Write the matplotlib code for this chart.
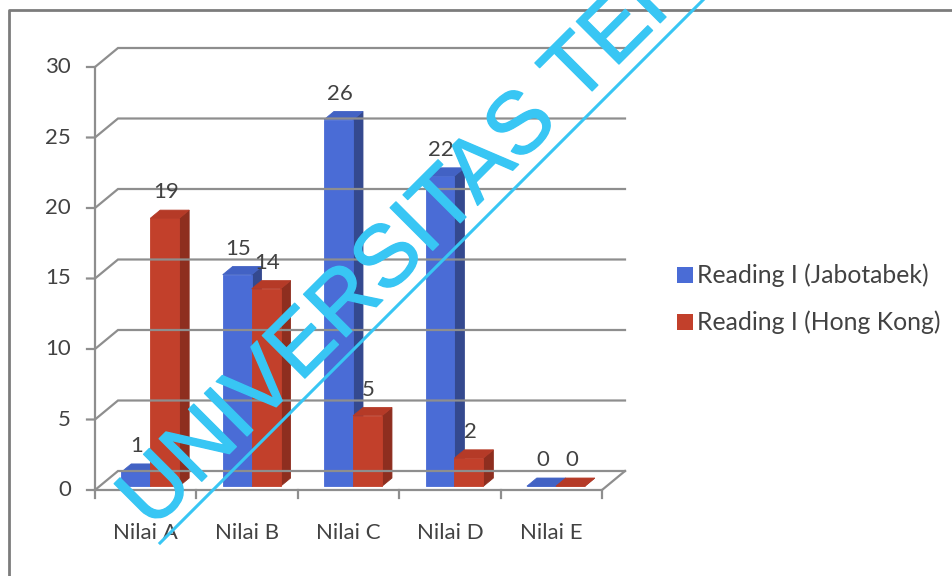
import matplotlib
matplotlib.use("Agg")
import matplotlib.pyplot as plt
import matplotlib.patheffects as pe
from matplotlib.patches import Polygon, Rectangle
from matplotlib.lines import Line2D

# ---- data ----
categories = ["Nilai A", "Nilai B", "Nilai C", "Nilai D", "Nilai E"]
jabotabek = [1, 15, 26, 22, 0]
hong_kong = [19, 14, 5, 2, 0]
series_names = ["Reading I (Jabotabek)", "Reading I (Hong Kong)"]
y_ticks = [0, 5, 10, 15, 20, 25, 30]
watermark = "UNIVERSITAS TERBUKA"

# ---- styling ----
FONT = "Lato"
TEXT_COLOR = "#424242"
GRID_COLOR = "#8e8e8e"
CYAN = "#38c6f4"
FACE = {
    "blue": {"front": "#4a6cd6", "side": "#34498f", "top": "#4262c4"},
    "red": {"front": "#c2402b", "side": "#8e2e1f", "top": "#b53a27"},
}

W, H, DPI = 952, 576, 100
X0_PX, Y0_PX = 95, 490          # front-left corner of the floor (pixels)
PX_PER_CAT, PX_PER_UNIT = 101.4, 14.1
DEPTH_PX = (23, 19)             # oblique depth of the floor (pixels)

fig = plt.figure(figsize=(W / DPI, H / DPI), dpi=DPI)
fig.patch.set_facecolor("white")
ax = fig.add_axes([0, 0, 1, 1])
ax.set_xlim(-X0_PX / PX_PER_CAT, (W - X0_PX) / PX_PER_CAT)
ax.set_ylim((Y0_PX - H) / PX_PER_UNIT, Y0_PX / PX_PER_UNIT)
ax.axis("off")

DX = DEPTH_PX[0] / PX_PER_CAT
DY = DEPTH_PX[1] / PX_PER_UNIT
N = len(categories)
YMAX = y_ticks[-1]


def P(x, y, d):
    """Oblique projection of (category x, value y, depth d in 0..1)."""
    return (x + d * DX, y + d * DY)


tick_x = 8 / PX_PER_CAT
tick_y = 8 / PX_PER_UNIT

# walls: back gridlines, side-wall diagonals and value ticks
for v in y_ticks:
    ax.add_line(Line2D([-tick_x, 0, DX, N + DX], [v, v, v + DY, v + DY],
                       color=GRID_COLOR, lw=1.6, solid_joinstyle="miter"))
    ax.annotate(str(v), xy=(0, v), xytext=(-24, 0), textcoords="offset pixels",
                ha="right", va="center", fontsize=16, family=FONT,
                color=TEXT_COLOR)

# front value axis
ax.add_line(Line2D([0, 0], [0, YMAX], color=GRID_COLOR, lw=1.6))

# floor outline
fx, fy = zip(P(0, 0, 0), P(N, 0, 0), P(N, 0, 1))
ax.add_line(Line2D(fx, fy, color=GRID_COLOR, lw=1.6))

# category ticks and labels
for i in range(N + 1):
    ax.add_line(Line2D([i, i], [0, -tick_y], color=GRID_COLOR, lw=1.6))
for i, name in enumerate(categories):
    ax.annotate(name, xy=(i + 0.5, 0), xytext=(0, -43), textcoords="offset pixels",
                ha="center", va="center", fontsize=16, family=FONT,
                color=TEXT_COLOR)

# 3-D columns
gap = 1.5
bar_w = 1 / (2 + gap)
d0, d1 = 0.2, 0.63
for i in range(N):
    for k, (vals, key) in enumerate(((jabotabek, "blue"), (hong_kong, "red"))):
        v = vals[i]
        xl = i + gap / 2 * bar_w + k * bar_w
        xr = xl + bar_w
        c = FACE[key]
        side = [P(xr, 0, d0), P(xr, 0, d1), P(xr, v, d1), P(xr, v, d0)]
        front = [P(xl, 0, d0), P(xr, 0, d0), P(xr, v, d0), P(xl, v, d0)]
        top = [P(xl, v, d0), P(xr, v, d0), P(xr, v, d1), P(xl, v, d1)]
        for poly, col in ((side, c["side"]), (front, c["front"]), (top, c["top"])):
            ax.add_patch(Polygon(poly, closed=True, facecolor=col,
                                 edgecolor=col, lw=0.6))
        ax.annotate(str(v), xy=P((xl + xr) / 2, v, d0), xytext=(1, 26),
                    textcoords="offset pixels", ha="center", va="center",
                    fontsize=16, family=FONT, color=TEXT_COLOR)

# outer chart frame
fig.add_artist(Line2D([9 / W, 9 / W, 1], [0, 1 - 10 / H, 1 - 10 / H],
                      transform=fig.transFigure, color="#7c7c7c", lw=2))

# legend
for j, (name, key) in enumerate(zip(series_names, ("blue", "red"))):
    cy = 275 + j * 47
    fig.add_artist(Rectangle((677 / W, 1 - (cy + 8) / H), 16 / W, 16 / H,
                             transform=fig.transFigure,
                             facecolor=FACE[key]["front"], edgecolor="none"))
    fig.text(697 / W, 1 - cy / H, name, ha="left", va="center",
             fontsize=17.8, family=FONT, color=TEXT_COLOR)

# diagonal watermark
fig.text(152 / W, 1 - 531 / H, watermark, rotation=45, rotation_mode="anchor",
         ha="left", va="baseline", fontsize=63, family="Liberation Sans",
         color=CYAN,
         path_effects=[pe.withStroke(linewidth=1.0, foreground=CYAN)])
fig.add_artist(Line2D([160 / W, 740 / W], [1 - 543 / H, 1 + 37 / H],
                      transform=fig.transFigure, color=CYAN, lw=2.2))

fig.savefig("out.png", dpi=DPI)
